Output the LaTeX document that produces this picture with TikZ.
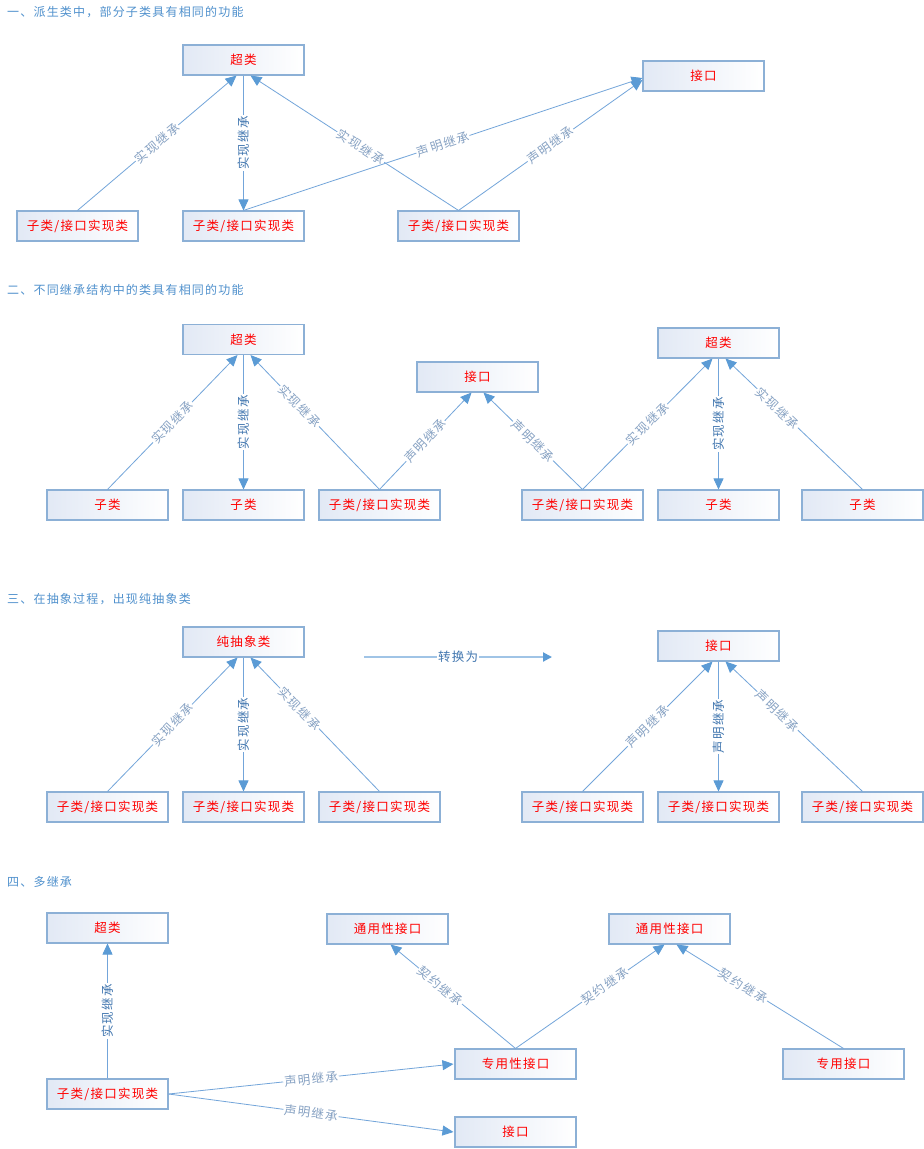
\documentclass[tikz,border=0pt]{standalone}
\usepackage{fontspec}
\setmainfont{Noto Sans CJK SC}[LetterSpace=10]
\usetikzlibrary{arrows.meta}
\definecolor{boxc}{RGB}{140,176,214}
\definecolor{boxl}{RGB}{226,233,245}
\definecolor{edgec}{RGB}{115,165,218}
\definecolor{headc}{RGB}{91,155,213}
\definecolor{lblf}{RGB}{135,162,195}
\definecolor{lblv}{RGB}{65,118,175}
\definecolor{ttlc}{RGB}{80,145,205}
\definecolor{convc}{RGB}{160,196,230}
\begin{document}
\begin{tikzpicture}[x=1pt,y=-1pt,
  box/.style={draw=boxc, line width=1.1pt, left color=boxl, right color=white,
    minimum width=121pt, minimum height=30pt, inner sep=0pt, text=red,
    font=\fontsize{12.5}{14}\selectfont},
  edge/.style={draw=edgec, line width=0.8pt, -{Triangle[length=11pt,width=10pt,color=headc]}},
  lf/.style={midway, sloped, fill=white, inner sep=1pt, text=lblf, font=\fontsize{12.5}{14}\selectfont},
  lv/.style={midway, rotate=90, fill=white, inner sep=1pt, text=lblv, font=\fontsize{12.5}{14}\selectfont},
  ttl/.style={anchor=west, inner sep=0pt, text=ttlc, font=\fontsize{12}{14}\selectfont},
  conv/.style={draw=convc, line width=2pt, -{Triangle[length=9pt,width=9pt,color=headc]}}
]
\useasboundingbox[fill=white] (0,0) rectangle (924,1149);

% ---------- Section 1 ----------
\node[ttl] (t1) at (7,12) {一、派生类中，部分子类具有相同的功能};
\node[box] (s1sup) at (243.5,60) {超类};
\node[box] (s1if) at (703.5,76) {接口};
\node[box] (s1a) at (77.5,226) {子类/接口实现类};
\node[box] (s1b) at (243.5,226) {子类/接口实现类};
\node[box] (s1c) at (458.5,226) {子类/接口实现类};
\draw[edge] (s1a.north) -- node[lf]{实现继承} ([xshift=-7pt]s1sup.south);
\draw[edge] (s1sup.south) -- node[lv]{实现继承} (s1b.north);
\draw[edge] (s1c.north) -- node[lf,pos=0.47]{实现继承} ([xshift=7pt]s1sup.south);
\draw[edge] (s1b.north) -- node[lf]{声明继承} ([yshift=-2pt]s1if.west);
\draw[edge] (s1c.north) -- node[lf]{声明继承} ([yshift=-4pt]s1if.west);

% ---------- Section 2 ----------
\node[ttl] (t2) at (7,290) {二、不同继承结构中的类具有相同的功能};
\node[box] (s2supa) at (243.5,339.5) {超类};
\node[box] (s2if) at (477.5,377) {接口};
\node[box] (s2supb) at (718.5,343) {超类};
\node[box] (s2a) at (107.5,505) {子类};
\node[box] (s2b) at (243.5,505) {子类};
\node[box] (s2c) at (379.5,505) {子类/接口实现类};
\node[box] (s2d) at (582.5,505) {子类/接口实现类};
\node[box] (s2e) at (718.5,505) {子类};
\node[box] (s2f) at (862.5,505) {子类};
\draw[edge] (s2a.north) -- node[lf]{实现继承} ([xshift=-6pt]s2supa.south);
\draw[edge] (s2supa.south) -- node[lv]{实现继承} (s2b.north);
\draw[edge] (s2c.north) -- node[lf,pos=0.62]{实现继承} ([xshift=7pt]s2supa.south);
\draw[edge] (s2c.north) -- node[lf]{声明继承} ([xshift=-6pt]s2if.south);
\draw[edge] (s2d.north) -- node[lf]{声明继承} ([xshift=6pt]s2if.south);
\draw[edge] (s2d.north) -- node[lf]{实现继承} ([xshift=-6pt]s2supb.south);
\draw[edge] (s2supb.south) -- node[lv]{实现继承} (s2e.north);
\draw[edge] (s2f.north) -- node[lf,pos=0.62]{实现继承} ([xshift=7pt]s2supb.south);

% ---------- Section 3 ----------
\node[ttl] (t3) at (7,599) {三、在抽象过程，出现纯抽象类};
\node[box] (s3abs) at (243.5,642) {纯抽象类};
\node[box] (s3if) at (718.5,646) {接口};
\coordinate (cvs) at (364,657);
\coordinate (cve) at (552,657);
\draw[conv] (cvs) -- node[midway, fill=white, inner sep=1pt, text=lblv, font=\fontsize{12.5}{14}\selectfont]{转换为} (cve);
\node[box] (s3a) at (107.5,807) {子类/接口实现类};
\node[box] (s3b) at (243.5,807) {子类/接口实现类};
\node[box] (s3c) at (379.5,807) {子类/接口实现类};
\node[box] (s3d) at (582.5,807) {子类/接口实现类};
\node[box] (s3e) at (718.5,807) {子类/接口实现类};
\node[box] (s3f) at (862.5,807) {子类/接口实现类};
\draw[edge] (s3a.north) -- node[lf]{实现继承} ([xshift=-6pt]s3abs.south);
\draw[edge] (s3abs.south) -- node[lv]{实现继承} (s3b.north);
\draw[edge] (s3c.north) -- node[lf,pos=0.62]{实现继承} ([xshift=7pt]s3abs.south);
\draw[edge] (s3d.north) -- node[lf]{声明继承} ([xshift=-6pt]s3if.south);
\draw[edge] (s3if.south) -- node[lv]{声明继承} (s3e.north);
\draw[edge] (s3f.north) -- node[lf,pos=0.62]{声明继承} ([xshift=7pt]s3if.south);

% ---------- Section 4 ----------
\node[ttl] (t4) at (7,882) {四、多继承};
\node[box] (s4sup) at (107.5,928) {超类};
\node[box] (s4g1) at (387.5,929) {通用性接口};
\node[box] (s4g2) at (669.5,929) {通用性接口};
\node[box] (s4impl) at (107.5,1094) {子类/接口实现类};
\node[box] (s4sp) at (515.5,1064) {专用性接口};
\node[box] (s4spi) at (843.5,1064) {专用接口};
\node[box] (s4if) at (515.5,1132) {接口};
\draw[edge] (s4impl.north) -- node[lv]{实现继承} (s4sup.south);
\draw[edge] (s4impl.east) -- node[lf]{声明继承} ([xshift=-1pt]s4sp.west);
\draw[edge] (s4impl.east) -- node[lf]{声明继承} ([xshift=-1pt]s4if.west);
\draw[edge] (s4sp.north) -- node[lf,pos=0.6]{契约继承} ([xshift=3pt]s4g1.south);
\draw[edge] (s4sp.north) -- node[lf,pos=0.6]{契约继承} ([xshift=-5pt]s4g2.south);
\draw[edge] (s4spi.north) -- node[lf,pos=0.6]{契约继承} ([xshift=7pt]s4g2.south);
\end{tikzpicture}
\end{document}
